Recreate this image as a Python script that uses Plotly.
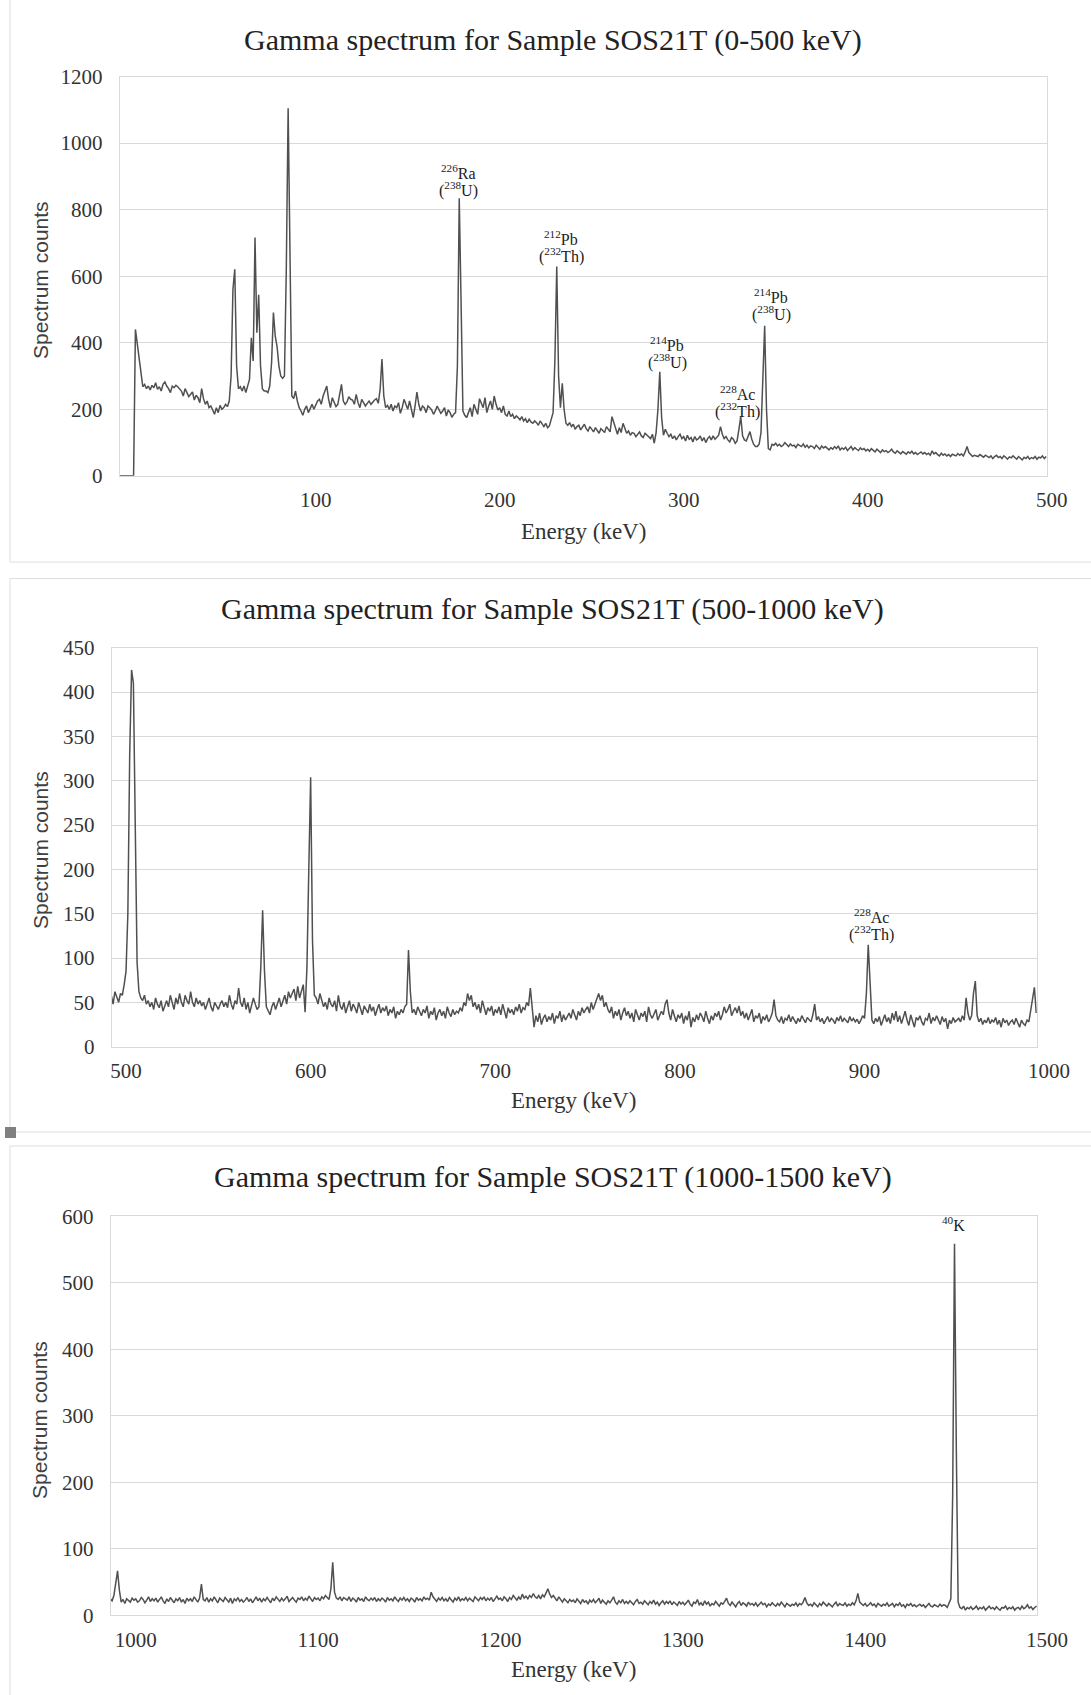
import numpy as np
import plotly.graph_objects as go

# ---------------- DATA (counts per 1 keV step) ----------------
energy1_start = -7
counts1 = [
    0, 0, 0, 0, 0, 0, 0,
    0, 0, 440, 395, 350, 300, 268, 275, 262, 270,
    258, 272, 265, 280, 260, 268, 255, 275, 282, 270,
    262, 250, 270, 265, 272, 268, 262, 255, 240, 262,
    250, 238, 245, 252, 228, 242, 235, 220, 262, 232,
    215, 225, 205, 210, 198, 185, 205, 190, 212, 200,
    205, 215, 208, 225, 300, 560, 621, 330, 262, 268,
    255, 270, 250, 275, 290, 415, 345, 716, 430, 544,
    330, 262, 255, 255, 250, 270, 340, 491, 420, 388,
    330, 300, 293, 300, 620, 1105, 580, 240, 232, 255,
    225, 205, 195, 182, 200, 210, 190, 205, 215, 200,
    212, 225, 230, 215, 240, 258, 270, 230, 205, 235,
    220, 208, 215, 240, 275, 225, 215, 222, 238, 230,
    228, 215, 245, 220, 205, 230, 222, 210, 218, 225,
    215, 222, 228, 232, 218, 260, 351, 240, 205, 212,
    200, 215, 195, 210, 205, 220, 188, 205, 230, 215,
    200, 225, 198, 175, 210, 252, 215, 195, 210, 205,
    190, 210, 205, 198, 185, 195, 210, 200, 188, 195,
    205, 180, 198, 190, 176, 185, 190, 330, 834, 520,
    195, 182, 175, 190, 205, 178, 215, 200, 185, 232,
    220, 205, 235, 190, 210, 225, 200, 240, 215, 198,
    205, 190, 210, 185, 180, 195, 178, 185, 172, 180,
    175, 168, 178, 165, 172, 160, 170, 162, 158, 165,
    160, 152, 165, 155, 148, 158, 145, 150, 170, 190,
    350, 629, 300, 205, 278, 200, 158, 152, 160, 148,
    155, 140, 148, 152, 138, 145, 155, 142, 135, 148,
    140, 132, 145, 138, 128, 142, 135, 130, 148, 140,
    132, 178, 160, 138, 125, 145, 130, 158, 140, 128,
    135, 122, 130, 128, 118, 125, 132, 120, 115, 128,
    122, 118, 112, 125, 98, 130, 200, 313, 175, 122,
    140, 128, 118, 125, 112, 120, 108, 118, 125, 112,
    118, 105, 122, 110, 115, 102, 118, 108, 112, 120,
    105, 115, 100, 112, 118, 108, 120, 110, 115, 122,
    148, 125, 112, 118, 108, 102, 115, 110, 98, 105,
    140, 178, 120, 108, 105, 118, 133, 110, 95, 88,
    88, 95, 130, 290, 451, 200, 82, 78, 95, 92,
    98, 90, 95, 88, 92, 100, 94, 88, 96, 90,
    92, 85, 95, 90, 88, 96, 86, 92, 84, 90,
    88, 82, 92, 86, 80, 90, 84, 88, 82, 78,
    85, 80, 88, 82, 90, 78, 84, 80, 86, 76,
    82, 88, 78, 85, 80, 76, 84, 79, 82, 75,
    80, 74, 82, 77, 72, 80, 75, 70, 78, 73,
    76, 70, 74, 80, 72, 68, 75, 70, 66, 73,
    70, 65, 72, 68, 74, 66, 70, 64, 68, 72,
    66, 70, 64, 68, 62, 75, 66, 70, 64, 60,
    68, 62, 66, 60, 64, 58, 65, 62, 60, 67,
    62, 66, 60, 72, 88, 70, 64, 58, 62, 60,
    58, 64, 60, 56, 62, 58, 55, 60, 52, 58,
    62, 55, 58, 52, 60, 56, 50, 57, 54, 60,
    55, 50, 58, 53, 48, 56, 52, 58, 50, 55,
    52, 58, 50, 56, 54, 60, 52, 58,
]

energy2_start = 492
counts2 = [
    58, 48, 62, 55, 50, 60, 58, 70,
    85, 150, 330, 425, 410, 250, 95, 62, 55, 52,
    58, 48, 52, 45, 50, 42, 55, 48, 44, 52,
    40, 46, 52, 45, 58, 50, 42, 55, 48, 60,
    50, 45, 58, 52, 48, 62, 50, 45, 55, 48,
    52, 46, 50, 42, 48, 55, 45, 40, 50, 46,
    42, 48, 52, 45, 50, 44, 58, 48, 42, 52,
    48, 66, 50, 45, 55, 42, 50, 38, 46, 55,
    48, 42, 45, 90, 154, 85, 45, 40, 36, 45,
    50, 42, 48, 55, 45, 52, 58, 48, 62, 55,
    60, 65, 52, 68, 55, 62, 70, 39, 90, 200,
    304, 120, 58, 55, 48, 60, 52, 45, 50, 42,
    55, 48, 45, 52, 40, 58, 46, 42, 50, 38,
    45, 52, 40, 48, 44, 38, 50, 42, 36, 46,
    42, 38, 48, 40, 45, 35, 42, 48, 38, 44,
    40, 46, 35, 42, 38, 45, 32, 40, 36, 42,
    38, 45, 48, 109, 62, 38, 42, 36, 45, 40,
    35, 42, 38, 46, 32, 40, 36, 44, 30, 38,
    42, 35, 40, 32, 45, 38, 34, 42, 36, 40,
    38, 44, 40, 50, 46, 60, 52, 58, 45, 50,
    42, 48, 38, 52, 45, 36, 44, 40, 46, 35,
    42, 38, 45, 36, 48, 40, 32, 44, 38, 42,
    36, 45, 40, 48, 38, 44, 42, 50, 46, 66,
    40, 22, 35, 28, 38, 25, 32, 36, 28, 34,
    30, 38, 26, 35, 32, 40, 28, 36, 30, 34,
    38, 32, 42, 36, 30, 40, 35, 44, 38, 42,
    45, 38, 50, 42, 48, 55, 60, 52, 58, 45,
    50, 42, 38, 45, 32, 40, 35, 42, 30, 38,
    44, 35, 40, 32, 38, 28, 42, 36, 30, 38,
    34, 40, 28, 45, 36, 32, 38, 42, 30, 35,
    40, 36, 48, 53, 38, 30, 42, 35, 28, 36,
    32, 38, 26, 35, 30, 40, 22, 33, 28, 36,
    30, 38, 34, 28, 40, 32, 26, 35, 30, 38,
    34, 40, 30, 36, 45, 38, 42, 48, 35, 40,
    44, 38, 46, 35, 40, 32, 38, 30, 36, 42,
    28, 35, 32, 38, 26, 34, 30, 36, 28, 32,
    38, 53, 35, 30, 28, 34, 26, 32, 30, 36,
    28, 34, 30, 26, 32, 28, 35, 30, 27, 33,
    30, 28, 36, 48, 30, 34, 28, 32, 26, 30,
    34, 28, 32, 30, 26, 33, 29, 35, 28, 32,
    30, 27, 34, 29, 32, 28, 31, 26, 30, 35,
    32, 60, 115, 70, 30, 26, 32, 28, 34, 24,
    30, 36, 28, 33, 26, 38, 30, 40, 28, 35,
    26, 32, 40, 30, 24, 36, 28, 22, 33, 30,
    35, 28, 24, 32, 30, 38, 26, 33, 29, 35,
    30, 25, 34, 28, 32, 20, 30, 26, 33, 28,
    30, 32, 28, 35, 30, 55, 38, 30, 35, 60,
    74, 35, 28, 32, 25, 30, 27, 33, 26, 30,
    28, 33, 25, 30, 22, 32, 27, 30, 24, 28,
    30, 25, 32, 27, 22, 30, 26, 24, 30, 28,
    40, 55, 67, 38,
]

energy3_start = 986
counts3 = [
    25, 22, 30, 50,
    67, 38, 20, 24, 18, 25, 22, 20, 26, 23,
    25, 20, 22, 27, 24, 19, 23, 28, 21, 25,
    22, 26, 20, 24, 28, 22, 18, 25, 21, 27,
    23, 19, 25, 22, 27, 20, 24, 18, 26, 22,
    25, 21, 28, 23, 20, 26, 47, 24, 22, 27,
    20, 25, 22, 28, 24, 19, 26, 23, 21, 27,
    24, 20, 26, 18, 25, 22, 27, 21, 24, 20,
    23, 27, 21, 25, 19, 24, 28, 22, 26, 20,
    25, 22, 27, 23, 19, 26, 22, 28, 24, 21,
    26, 22, 25, 29, 21, 24, 27, 23, 20, 26,
    24, 28, 22, 26, 23, 29, 25, 21, 27, 24,
    26, 22, 28, 25, 30, 27, 24, 40, 80, 35,
    26, 24, 28, 22, 27, 25, 23, 28, 21, 26,
    24, 20, 27, 23, 25, 21, 28, 24, 22, 26,
    23, 27, 21, 25, 22, 26, 24, 20, 27, 23,
    25, 22, 28, 24, 21, 26, 23, 27, 22, 25,
    21, 26, 24, 20, 27, 23, 25, 22, 28, 24,
    26, 23, 35, 28, 24, 21, 26, 23, 27, 22,
    25, 21, 27, 24, 20, 26, 23, 28, 22, 25,
    23, 27, 22, 26, 24, 21, 28, 25, 22, 27,
    24, 28, 22, 26, 23, 27, 21, 25, 29, 24,
    26, 22, 28, 25, 21, 27, 24, 30, 26, 23,
    28, 24, 32, 26, 29, 25, 30, 27, 33, 28,
    26, 30, 25, 31, 28, 34, 40, 32, 27, 30,
    26, 22, 28, 24, 20, 25, 22, 19, 24, 21,
    23, 19, 25, 21, 18, 24, 20, 22, 17, 23,
    20, 24, 19, 22, 26, 18, 23, 20, 17, 22,
    19, 23, 28, 20, 17, 22, 19, 24, 18, 21,
    18, 22, 19, 16, 21, 24, 18, 20, 17, 22,
    19, 16, 21, 18, 23, 17, 20, 15, 19, 22,
    17, 21, 18, 22, 16, 20, 18, 15, 21, 17,
    20, 16, 19, 23, 17, 14, 20, 18, 24, 16,
    19, 15, 22, 17, 20, 14, 18, 16, 21, 17,
    14, 19, 17, 21, 26, 18, 15, 20, 17, 13,
    18, 21, 15, 19, 17, 14, 20, 16, 18, 15,
    19, 14, 17, 20, 16, 18, 13, 17, 15, 19,
    16, 14, 18, 15, 20, 17, 13, 18, 16, 14,
    17, 15, 19, 14, 18, 16, 20, 27, 19, 15,
    17, 14, 19, 16, 13, 18, 15, 20, 17, 14,
    18, 15, 13, 17, 20, 14, 18, 16, 15, 19,
    14, 17, 15, 19, 16, 22, 33, 20, 17, 15,
    18, 14, 16, 19, 15, 17, 13, 18, 16, 14,
    17, 15, 19, 14, 16, 18, 13, 17, 15, 19,
    14, 16, 12, 17, 15, 18, 14, 16, 13, 15,
    17, 14, 16, 12, 15, 18, 14, 13, 16, 15,
    13, 17, 14, 16, 15, 12, 18, 25, 180, 559,
    250, 20, 12, 10, 14, 8, 12, 10, 13, 9,
    11, 14, 9, 12, 10, 13, 8, 11, 14, 10,
    12, 9, 13, 10, 8, 12, 11, 14, 9, 12,
    10, 13, 8, 11, 12, 9, 14, 10, 12, 16,
    11, 13, 9, 12, 14,
]

titles = [
    "Gamma spectrum for Sample SOS21T (0-500 keV)",
    "Gamma spectrum for Sample SOS21T (500-1000 keV)",
    "Gamma spectrum for Sample SOS21T (1000-1500 keV)",
]
x_tick_values = [[100, 200, 300, 400, 500], [500, 600, 700, 800, 900, 1000],
                 [1000, 1100, 1200, 1300, 1400, 1500]]
y_tick_steps = [200, 50, 100]
y_max = [1200, 450, 600]

# peak labels: panel, energy of label centre, counts at label bottom, two text lines
peak_panel = [0, 0, 0, 0, 0, 1, 2]
peak_energy = [177.5, 233.5, 291.0, 329.5, 347.5, 904.0, 1448.5]
peak_counts = [822, 625, 305, 160, 450, 114, 570]
peak_line1 = ["<sup>226</sup>Ra", "<sup>212</sup>Pb", "<sup>214</sup>Pb", "<sup>228</sup>Ac",
              "<sup>214</sup>Pb", "<sup>228</sup>Ac", "<sup>40</sup>K"]
peak_line2 = ["(<sup>238</sup>U)", "(<sup>232</sup>Th)", "(<sup>238</sup>U)", "(<sup>232</sup>Th)",
              "(<sup>238</sup>U)", "(<sup>232</sup>Th)", ""]

# ---------------- LAYOUT (target pixels in the final picture) ----------------
W, H = 1091, 1695
# the photographed page is slightly squeezed vertically: picture_y = 0.98594*y + 11.9
SQ, OFF = 0.98594, 11.9
def fx(px):
    return px / W
def fy(py):
    return 1 - ((py - OFF) / SQ) / H

x_ranges = [[-6.5, 497.5], [492.3, 993.3], [986.3, 1494.3]]
plot_px_x = [(118, 1047), (110, 1036.7), (109, 1037)]
plot_px_y = [(76.5, 475.8), (647.7, 1046.7), (1216.5, 1615.5)]
title_py = [40, 609, 1177.5]
xlab_px = [583, 573, 573]
xlab_py = [531, 1100.8, 1669.5]
ylab_py = [280, 850, 1420]
frame_py = [(-20, 562), (578.5, 1132), (1146, 1760)]

SERIF = "Liberation Serif, Times New Roman, serif"
SANS = "Liberation Sans, Arial, sans-serif"
LINE = "#505050"
GRID = "#d9d9d9"
TICKSIZE = 21

energies = [
    np.arange(energy1_start, energy1_start + len(counts1)),
    np.arange(energy2_start, energy2_start + len(counts2)),
    np.arange(energy3_start, energy3_start + len(counts3)),
]
counts = [counts1, counts2, counts3]

fig = go.Figure()
annotations = []
shapes = []
layout_axes = {}

for i in range(3):
    xa = "x" if i == 0 else f"x{i+1}"
    ya = "y" if i == 0 else f"y{i+1}"
    fig.add_trace(go.Scatter(x=energies[i], y=counts[i], mode="lines",
                             line=dict(color=LINE, width=1.5),
                             xaxis=xa, yaxis=ya, showlegend=False,
                             hoverinfo="skip"))
    lo, hi = x_ranges[i]
    d0, d1 = fx(plot_px_x[i][0]), fx(plot_px_x[i][1])
    in_ticks = [t for t in x_tick_values[i] if lo <= t <= hi]
    out_ticks = [t for t in x_tick_values[i] if not (lo <= t <= hi)]
    xkey = "xaxis" if i == 0 else f"xaxis{i+1}"
    ykey = "yaxis" if i == 0 else f"yaxis{i+1}"
    layout_axes[xkey] = dict(
        domain=[d0, d1],
        range=x_ranges[i], anchor=ya, tickvals=in_ticks,
        showgrid=False, zeroline=False, showline=True, mirror=True,
        linecolor=GRID, linewidth=1, ticks="",
        tickfont=dict(family=SERIF, size=TICKSIZE, color="#333333"),
        ticklabelstandoff=5, fixedrange=True,
    )
    layout_axes[ykey] = dict(
        domain=[fy(plot_px_y[i][1]), fy(plot_px_y[i][0])],
        range=[0, y_max[i]], anchor=xa, dtick=y_tick_steps[i], tick0=0,
        showgrid=True, gridcolor=GRID, gridwidth=1, zeroline=False,
        showline=True, mirror=True, linecolor=GRID, linewidth=1, ticks="",
        tickfont=dict(family=SERIF, size=TICKSIZE, color="#333333"),
        ticklabelstandoff=12, fixedrange=True,
    )
    # tick labels that sit just beyond the end of the axis range
    for t in out_ticks:
        xp = d0 + (t - lo) / (hi - lo) * (d1 - d0)
        annotations.append(dict(x=xp, xref="paper", y=fy(plot_px_y[i][1] + 24.5), yref="paper",
                                text=str(t), showarrow=False, xanchor="center",
                                yanchor="middle",
                                font=dict(family=SERIF, size=TICKSIZE, color="#333333")))
    # chart title
    annotations.append(dict(x=fx(552), y=fy(title_py[i]), xref="paper", yref="paper",
                            text=titles[i], showarrow=False, xanchor="center",
                            yanchor="middle",
                            font=dict(family=SERIF, size=30, color="#222222")))
    # x axis title
    annotations.append(dict(x=fx(xlab_px[i]), y=fy(xlab_py[i]), xref="paper", yref="paper",
                            text="Energy (keV)", showarrow=False, xanchor="center",
                            yanchor="middle",
                            font=dict(family=SERIF, size=23, color="#333333")))
    # y axis title
    annotations.append(dict(x=fx(38), y=fy(ylab_py[i]), xref="paper", yref="paper",
                            text="Spectrum counts", showarrow=False, textangle=-90,
                            xanchor="center", yanchor="middle",
                            font=dict(family=SANS, size=21, color="#404040")))
    # outer chart frame
    shapes.append(dict(type="rect", xref="paper", yref="paper",
                       x0=fx(8), x1=fx(1100), y0=fy(frame_py[i][1]), y1=fy(frame_py[i][0]),
                       line=dict(color="#dedede", width=1), layer="below"))

for p, e, c, t1, t2 in zip(peak_panel, peak_energy, peak_counts, peak_line1, peak_line2):
    xa = "x" if p == 0 else f"x{p+1}"
    ya = "y" if p == 0 else f"y{p+1}"
    lines = [t1] if not t2 else [t2, t1]
    for k, txt in enumerate(lines):
        annotations.append(dict(x=e, y=c, xref=xa, yref=ya, text=txt, showarrow=False,
                                xanchor="center", yanchor="bottom", yshift=18 * k,
                                font=dict(family=SERIF, size=16, color="#222222")))

# small grey marker square at left edge
shapes.append(dict(type="rect", xref="paper", yref="paper",
                   x0=fx(3), x1=fx(14), y0=fy(1138), y1=fy(1127),
                   fillcolor="#808080", line=dict(width=0)))

fig.update_layout(
    width=W, height=H, margin=dict(l=0, r=0, t=0, b=0),
    paper_bgcolor="white", plot_bgcolor="white",
    annotations=annotations, shapes=shapes, showlegend=False,
    **layout_axes,
)

fig.write_html("out.html", config={"displayModeBar": False},
               post_script="document.body.style.margin='0px';")
